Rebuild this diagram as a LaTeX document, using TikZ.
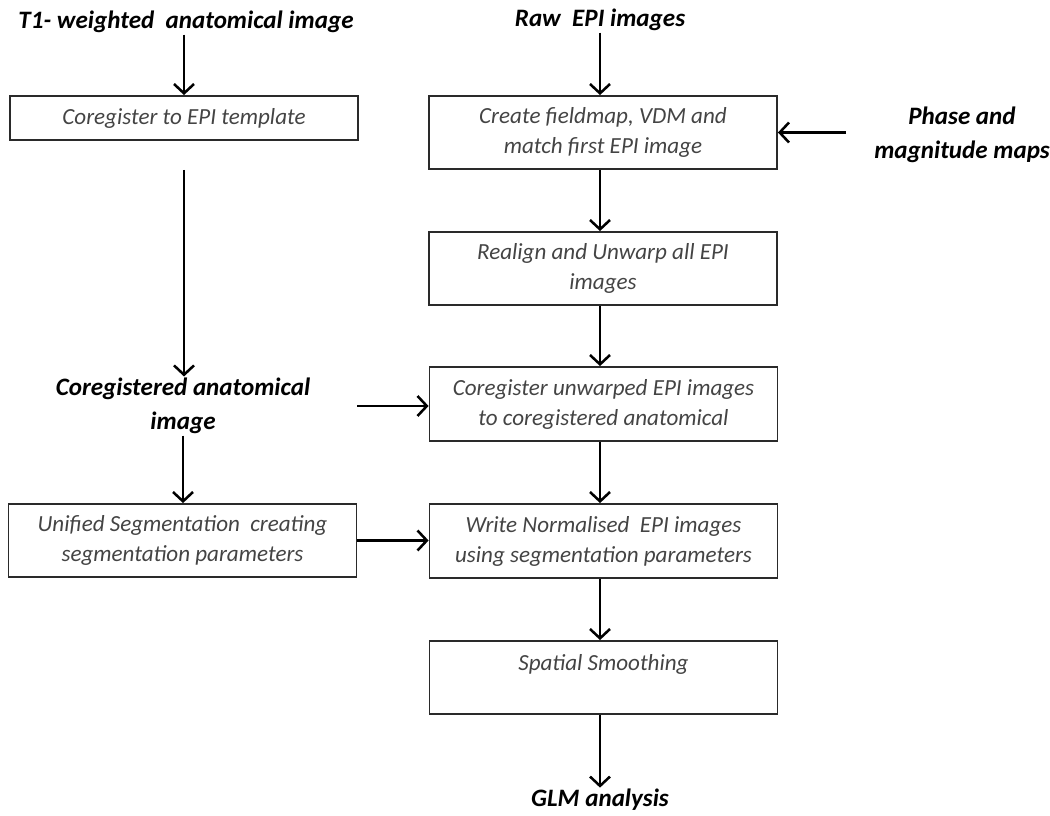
\documentclass[tikz,border=0pt]{standalone}
\usepackage{fontspec}
\setmainfont{Carlito}
\usetikzlibrary{arrows.meta}
\definecolor{boxtext}{HTML}{444444}
\definecolor{boxline}{HTML}{2A2A2A}
\begin{document}
\begin{tikzpicture}[x=0.75pt,y=-0.75pt,
  stepbox/.style={draw=boxline,line width=1.4pt,align=center,text=boxtext,
    font=\itshape\fontsize{17.3}{22.5}\selectfont,inner sep=2pt,
    minimum width=261pt},
  lbl/.style={align=center,text=black,font=\bfseries\itshape\fontsize{18.8}{25.5}\selectfont,inner sep=1pt},
  arr/.style={line width=1.9pt,-{Straight Barb[length=7pt,width=15pt,line width=1.9pt]}}]
\useasboundingbox (0,0) rectangle (1050,816);
% left column
\node[lbl] (t1) at (186,22) {T1- weighted\ \ anatomical image};
\node[stepbox,minimum height=33pt] (cor) at (184,118) {Coregister to EPI template};
\node[lbl] (coranat) at (183,406) {Coregistered anatomical\\image};
\node[stepbox,minimum height=54.75pt] (unified) at (182.5,540.5) {Unified Segmentation\ \ creating\\segmentation parameters};
% right column
\node[lbl] (raw) at (600,20) {Raw\ \ EPI images};
\node[stepbox,minimum height=54.75pt] (create) at (603,132.5) {Create fieldmap, VDM and\\match first EPI image};
\node[lbl] (phase) at (962,135) {Phase and\\magnitude maps};
\node[stepbox,minimum height=54.75pt] (realign) at (603,268.5) {Realign and Unwarp all EPI\\images};
\node[stepbox,minimum height=55.5pt] (corepi) at (603.5,404) {Coregister unwarped EPI images\\to coregistered anatomical};
\node[stepbox,minimum height=55.5pt] (write) at (603.5,541) {Write Normalised\ \ EPI images\\using segmentation parameters};
\node[stepbox,minimum height=54.75pt] (smooth) at (603.5,677.5) {Spatial Smoothing\\~};
\node[lbl] (glm) at (600,800) {GLM analysis};
% connectors left
\draw[arr] (t1.south -| cor.north) -- (cor.north);
\draw[arr,shorten <=21.75pt] (cor.south) -- (coranat.north -| cor.south);
\draw[arr] (coranat.south) -- (coranat.south |- unified.north);
\draw[arr] (unified.east |- coranat) -- (corepi.west |- coranat);
\draw[arr] (unified.east) -- (write.west |- unified.east);
% connectors right
\draw[arr] (raw.south) -- (raw.south |- create.north);
\draw[arr,shorten <=20pt] (phase.west |- create.east) -- (create.east);
\draw[arr] (create.south -| raw) -- (realign.north -| raw);
\draw[arr] (realign.south -| raw) -- (corepi.north -| raw);
\draw[arr] (corepi.south -| raw) -- (write.north -| raw);
\draw[arr] (write.south -| raw) -- (smooth.north -| raw);
\draw[arr] (smooth.south -| raw) -- (glm.north);
\end{tikzpicture}
\end{document}
